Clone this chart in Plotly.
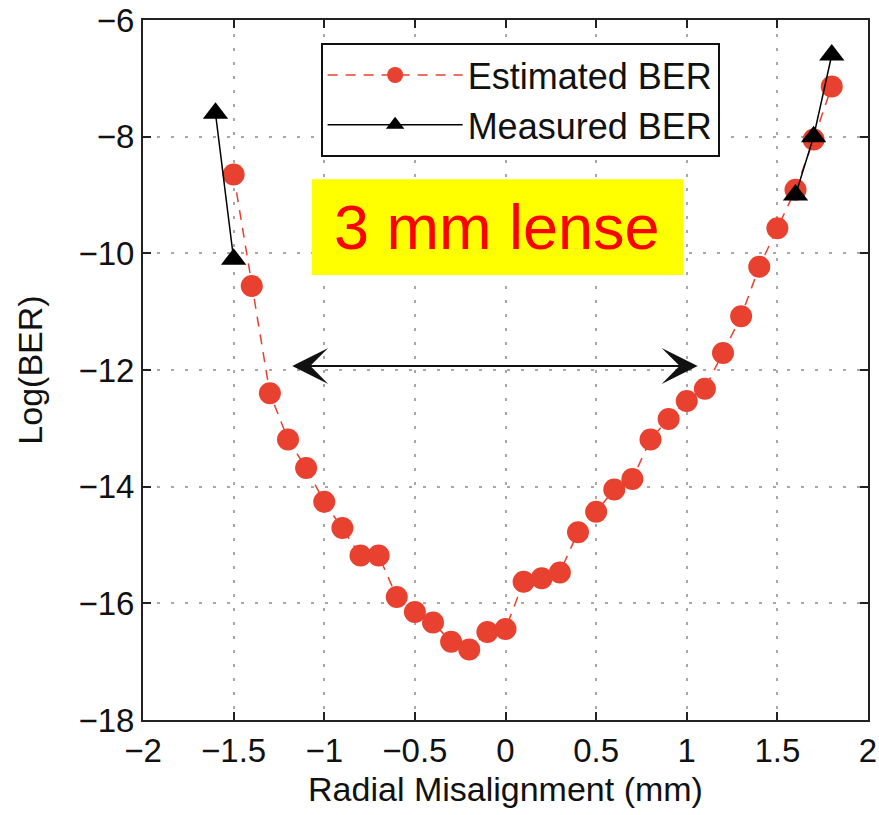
import plotly.graph_objects as go

# Estimated BER (red dashed with circles)
est_x = [-1.5, -1.4, -1.3, -1.2, -1.1, -1.0, -0.9, -0.8, -0.7, -0.6, -0.5, -0.4,
         -0.3, -0.2, -0.1, 0.0, 0.1, 0.2, 0.3, 0.4, 0.5, 0.6, 0.7, 0.8, 0.9, 1.0,
         1.1, 1.2, 1.3, 1.4, 1.5, 1.6, 1.7, 1.8]
est_y = [-8.65, -10.56, -12.40, -13.19, -13.68, -14.26, -14.71, -15.18, -15.18,
         -15.89, -16.15, -16.33, -16.66, -16.79, -16.49, -16.44, -15.63, -15.57,
         -15.47, -14.78, -14.43, -14.05, -13.87, -13.19, -12.84, -12.53, -12.32,
         -11.71, -11.08, -10.23, -9.57, -8.91, -8.05, -7.14]

# Measured BER (black solid with triangles), two separate segments
meas_x = [-1.6, -1.5, None, 1.6, 1.7, 1.8]
meas_y = [-7.6, -10.1, None, -9.0, -8.0, -6.6]

# Axis ticks
x_ticks = [-2, -1.5, -1, -0.5, 0, 0.5, 1, 1.5, 2]
y_ticks = [-18, -16, -14, -12, -10, -8, -6]

# Annotation: double arrow and label box
arrow_left = (-1.185, -11.93)
arrow_right = (1.06, -11.93)
label_text = "3 mm lense"
label_box = (-1.069, 0.98, -10.37, -8.73)  # x0, x1, y0, y1

FONT = "Liberation Sans, Arial, sans-serif"
RED = "#e8412f"

fig = go.Figure()
fig.add_trace(go.Scatter(
    x=est_x, y=est_y, mode="lines+markers", name="Estimated BER",
    line=dict(color=RED, width=1.5, dash="10px,8px"),
    marker=dict(color=RED, size=22, symbol="circle"),
))
fig.add_trace(go.Scatter(
    x=meas_x, y=meas_y, mode="lines+markers", name="Measured BER",
    line=dict(color="black", width=1.5),
    marker=dict(color="black", size=22, symbol="triangle-up"),
    connectgaps=False,
))

# yellow label box
fig.add_shape(type="rect", xref="x", yref="y",
              x0=label_box[0], x1=label_box[1], y0=label_box[2], y1=label_box[3],
              fillcolor="#ffff00", line=dict(width=0), layer="above")
fig.add_annotation(x=(label_box[0] + label_box[1]) / 2,
                   y=(label_box[2] + label_box[3]) / 2,
                   xref="x", yref="y", text=label_text, showarrow=False,
                   font=dict(family=FONT, size=63, color="#ff0000"))

# double-headed arrow
fig.add_annotation(x=arrow_right[0], y=arrow_right[1], ax=arrow_left[0], ay=arrow_left[1],
                   xref="x", yref="y", axref="x", ayref="y", text="",
                   showarrow=True, arrowhead=3, startarrowhead=3, arrowside="end+start",
                   arrowsize=3.0, startarrowsize=3.0, arrowwidth=2, arrowcolor="#111111",
                   standoff=0, startstandoff=0)

axis_common = dict(
    showline=True, linecolor="#222222", linewidth=2, mirror="ticks",
    ticks="inside", ticklen=8, tickwidth=1.5, tickcolor="#222222",
    showgrid=True, gridcolor="#a8a8a8", gridwidth=1.5, griddash="3px,11px",
    zeroline=False, automargin=False,
    tickfont=dict(family=FONT, size=33, color="#111111"),
)

fig.update_xaxes(range=[-2, 2], tickvals=x_ticks,
                 title=dict(text="Radial Misalignment (mm)",
                            font=dict(family=FONT, size=34, color="#111111"), standoff=10),
                 **axis_common)
fig.update_yaxes(range=[-18, -6], tickvals=y_ticks,
                 title=dict(text="Log(BER)",
                            font=dict(family=FONT, size=34, color="#111111"), standoff=26),
                 **axis_common)

fig.update_layout(
    width=879, height=815,
    margin=dict(l=143, r=11, t=20, b=95),
    plot_bgcolor="white", paper_bgcolor="white",
    showlegend=True,
    legend=dict(x=0.245, y=0.967, xanchor="left", yanchor="top",
                bgcolor="white", bordercolor="#111111", borderwidth=2,
                font=dict(family=FONT, size=36, color="#111111"),
                itemwidth=135, tracegroupgap=0),
)

fig.write_html("out.html")
